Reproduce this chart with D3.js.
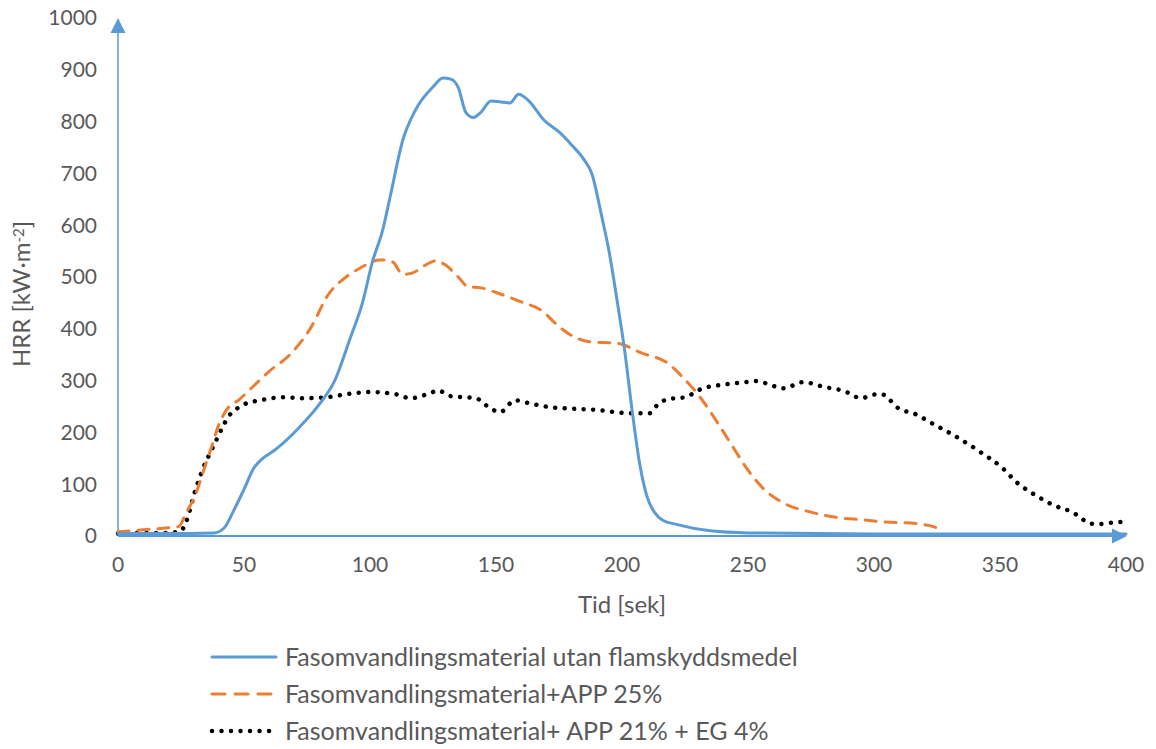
<!DOCTYPE html>
<html>
<head>
<meta charset="utf-8">
<script src="https://cdn.jsdelivr.net/npm/d3@7"></script>
<style>
  body { margin: 0; background: #fff; }
  svg text { font-family: Lato, "Open Sans", sans-serif; fill: #595959; }
</style>
</head>
<body>
<svg id="chart" width="1156" height="749"></svg>
<script>
// series: [time s, HRR]
const utanFlamskydd = [
  [0, 5], [20, 5], [38, 6], [42, 15], [46, 50], [50, 90], [54, 132], [57, 148], [62, 165],
  [72, 210], [80, 255], [86, 300], [92, 380], [97, 450], [101, 530], [105, 590],
  [108, 655], [113, 764], [118, 822], [125, 867], [129, 884], [132, 882], [135, 866],
  [138, 818], [141, 808], [144, 818], [148, 840], [152, 838], [155.5, 836], [159, 853],
  [163, 840], [169, 803], [175, 780], [180, 755], [185, 726], [188, 700], [192, 616],
  [195, 546], [198, 456], [201, 360], [204, 243], [207, 140], [210, 75], [213, 45],
  [216, 31], [222, 22], [235, 10], [250, 6], [300, 4], [400, 4]
];
const app25 = [
  [0, 8], [10, 12], [20, 16], [24, 18], [27, 44], [31, 83], [34, 127], [37, 170],
  [40, 215], [43, 243], [48, 263], [55, 295], [60, 318], [68, 349], [76, 398],
  [84, 470], [90, 498], [96, 517], [104, 533], [109, 529], [113, 505], [117, 508],
  [122, 523], [126, 531], [130, 523], [135, 500], [139, 481], [144, 479], [150, 470],
  [160, 452], [169, 432], [173, 413], [179, 390], [187, 375], [198, 372], [208, 353],
  [218, 334], [224, 307], [231, 268], [238, 218], [244, 172], [250, 127], [256, 92],
  [264, 64], [275, 46], [285, 36], [296, 31], [304, 27], [317, 24], [322, 20], [326, 14]
];
const app21eg4 = [
  [0, 5], [10, 6], [20, 6], [25, 10], [27, 27], [30.5, 85], [33, 121], [36.5, 160],
  [38.5, 180], [41.7, 212], [43.7, 230], [46.4, 243], [49.6, 253], [57.5, 263],
  [65.5, 268], [73.5, 266], [83, 268], [91, 274], [100, 278], [110, 274], [116, 266],
  [124, 276], [127, 281], [132, 270], [142, 266], [147.6, 247], [151.6, 239],
  [157.5, 262], [163.5, 256], [171, 249], [191, 243], [203, 237], [211, 237],
  [214, 253], [218, 264], [225, 268], [232, 285], [240, 292], [249, 297], [253, 299],
  [257, 295], [264, 285], [272, 297], [280, 288], [288, 280], [295, 266], [299, 272],
  [303, 274], [306, 264], [309, 249], [317, 234], [323.6, 216], [330, 199], [341, 166],
  [351, 131], [357, 102], [364, 79], [371, 60], [378.6, 46], [381.7, 37], [385, 25],
  [389, 23], [397, 27], [400, 27]
];
const seriesNames = [
  "Fasomvandlingsmaterial utan flamskyddsmedel",
  "Fasomvandlingsmaterial+APP 25%",
  "Fasomvandlingsmaterial+ APP 21% + EG 4%"
];
const xTicks = [0, 50, 100, 150, 200, 250, 300, 350, 400];
const yTicks = [0, 100, 200, 300, 400, 500, 600, 700, 800, 900, 1000];

const blue = "#5B9BD5", orange = "#ED7D31", black = "#000000";

const svg = d3.select("#chart");
const x = d3.scaleLinear().domain([0, 400]).range([118, 1126]);
const y = d3.scaleLinear().domain([0, 1000]).range([536, 18]);

// tick labels
svg.append("g").selectAll("text").data(yTicks).join("text")
    .attr("x", 97).attr("y", d => y(d)).attr("dy", "0.35em")
    .attr("text-anchor", "end").style("font-size", "21px")
    .text(d => d);
svg.append("g").selectAll("text").data(xTicks).join("text")
    .attr("x", d => x(d)).attr("y", 565).attr("dy", "0.35em")
    .attr("text-anchor", "middle").style("font-size", "21px")
    .text(d => d);

// axis titles
svg.append("text").attr("x", x(200)).attr("y", 605).attr("dy", "0.35em")
    .attr("text-anchor", "middle").style("font-size", "24px").text("Tid [sek]");
const yt = svg.append("text")
    .attr("transform", "translate(22,294) rotate(-90)")
    .attr("text-anchor", "middle").attr("dy", "0.35em").style("font-size", "24px");
yt.append("tspan").text("HRR [kW·m");
yt.append("tspan").attr("dy", "-0.45em").style("font-size", "15px").text("-2");
yt.append("tspan").attr("dy", "0.3em").text("]");

// series
const line = d3.line().x(d => x(d[0])).y(d => y(d[1])).curve(d3.curveMonotoneX);
const styles = [
  { data: utanFlamskydd, color: blue, width: 3, dash: null, legDash: null },
  { data: app25, color: orange, width: 3, dash: "11 9", legDash: "13 10" },
  { data: app21eg4, color: black, width: 4.5, dash: "0.01 9.5", legDash: "0.01 9.5" }
];

// axes (drawn in blue with arrow heads)
svg.append("line").attr("x1", x(0)).attr("x2", x(0)).attr("y1", y(0)).attr("y2", y(1000) + 12)
    .attr("stroke", blue).attr("stroke-width", 1.5);
svg.append("path")
    .attr("d", `M${x(0)},${y(1000)} L${x(0) - 7.5},${y(1000) + 15} L${x(0) + 7.5},${y(1000) + 15} Z`)
    .attr("fill", blue);

svg.append("g").selectAll("path").data(styles.slice().reverse()).join("path")
    .attr("d", d => line(d.data))
    .attr("fill", "none")
    .attr("stroke", d => d.color)
    .attr("stroke-width", d => d.width)
    .attr("stroke-dasharray", d => d.dash)
    .attr("stroke-linecap", "round")
    .attr("stroke-linejoin", "round");

svg.append("line").attr("x1", x(0)).attr("x2", x(400) - 12).attr("y1", y(0)).attr("y2", y(0))
    .attr("stroke", blue).attr("stroke-width", 2);
svg.append("path")
    .attr("d", `M${x(400) + 1},${y(0)} L${x(400) - 14},${y(0) - 7.5} L${x(400) - 14},${y(0) + 7.5} Z`)
    .attr("fill", blue);

// legend
const lg = svg.append("g").selectAll("g").data(styles).join("g")
    .attr("transform", (d, i) => `translate(210,${657 + i * 37})`);
lg.append("line").attr("x1", 2).attr("x2", 66).attr("y1", 0).attr("y2", 0)
    .attr("stroke", d => d.color).attr("stroke-width", d => d.width)
    .attr("stroke-dasharray", d => d.legDash).attr("stroke-linecap", "round");
lg.append("text").attr("x", 75).attr("dy", "0.35em").style("font-size", "25px")
    .text((d, i) => seriesNames[i]);
</script>
</body>
</html>
